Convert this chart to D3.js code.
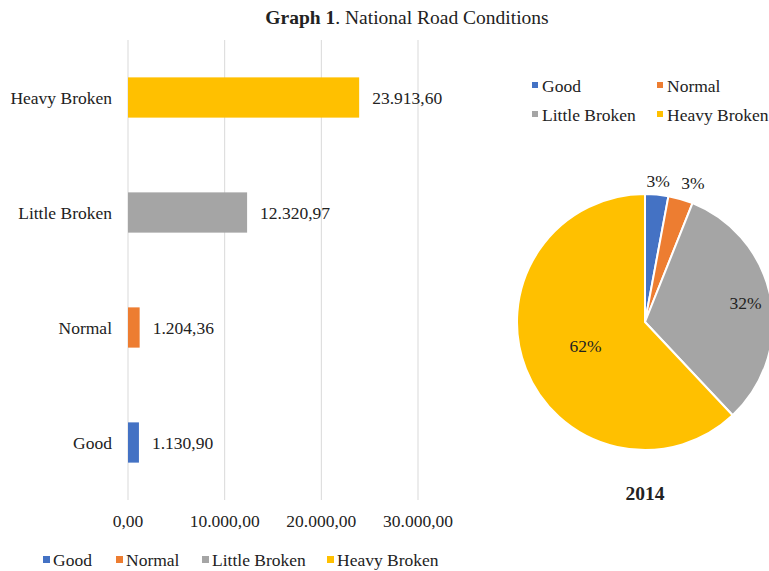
<!DOCTYPE html>
<html>
<head>
<meta charset="utf-8">
<script src="https://cdn.jsdelivr.net/npm/d3@7"></script>
<style>
  body { margin: 0; background: #fff; }
  text { font-family: 'Liberation Serif', 'Times New Roman', serif; fill: #222; }
</style>
</head>
<body>
<div id="chart"></div>
<script>
const categories = ['Good', 'Normal', 'Little Broken', 'Heavy Broken'];
const values = [1130.90, 1204.36, 12320.97, 23913.60];
const valueLabels = ['1.130,90', '1.204,36', '12.320,97', '23.913,60'];
const tickValues = [0, 10000, 20000, 30000];
const tickLabels = ['0,00', '10.000,00', '20.000,00', '30.000,00'];
const pieYear = '2014';
const colors = ['#4472C4', '#ED7D31', '#A5A5A5', '#FFC000'];

const width = 769;
const height = 571;
const fontSize = '17.5px';

const svg = d3.select('#chart').append('svg')
  .attr('width', width)
  .attr('height', height);

// title
const title = svg.append('text')
  .attr('x', 407)
  .attr('y', 24)
  .attr('text-anchor', 'middle')
  .style('font-size', '19.5px');
title.append('tspan').style('font-weight', 'bold').text('Graph 1');
title.append('tspan').text('. National Road Conditions');

//
// bar chart
//

const x = d3.scaleLinear()
  .domain([0, 30000])
  .range([128, 418]);

const y = d3.scaleBand()
  .domain(categories.slice().reverse())
  .range([40, 500])
  .paddingInner(0.65)
  .paddingOuter(0.325);

svg.append('g')
  .selectAll('line')
  .data(tickValues)
  .enter().append('line')
    .attr('x1', d => x(d))
    .attr('x2', d => x(d))
    .attr('y1', 40)
    .attr('y2', 500)
    .style('stroke', '#d9d9d9')
    .style('stroke-width', 1);

svg.append('g')
  .selectAll('text')
  .data(tickValues)
  .enter().append('text')
    .attr('x', d => x(d))
    .attr('y', 527)
    .attr('text-anchor', 'middle')
    .style('font-size', fontSize)
    .text((d, i) => tickLabels[i]);

svg.append('g')
  .selectAll('rect')
  .data(categories)
  .enter().append('rect')
    .attr('x', x(0))
    .attr('y', d => y(d))
    .attr('width', (d, i) => x(values[i]) - x(0))
    .attr('height', y.bandwidth())
    .style('fill', (d, i) => colors[i]);

svg.append('g')
  .selectAll('text')
  .data(categories)
  .enter().append('text')
    .attr('x', (d, i) => x(values[i]) + 13)
    .attr('y', d => y(d) + y.bandwidth() / 2)
    .attr('dy', '0.35em')
    .style('font-size', fontSize)
    .text((d, i) => valueLabels[i]);

svg.append('g')
  .selectAll('text')
  .data(categories)
  .enter().append('text')
    .attr('x', 112)
    .attr('y', d => y(d) + y.bandwidth() / 2)
    .attr('dy', '0.35em')
    .attr('text-anchor', 'end')
    .style('font-size', fontSize)
    .text(d => d);

// bottom legend
const bottomLegendX = [43, 116, 202, 327];
const bottomLegend = svg.append('g')
  .selectAll('g')
  .data(categories)
  .enter().append('g')
    .attr('transform', (d, i) => `translate(${bottomLegendX[i]},560)`);
bottomLegend.append('rect')
  .attr('x', 0).attr('y', -4)
  .attr('width', 7).attr('height', 7)
  .style('fill', (d, i) => colors[i]);
bottomLegend.append('text')
  .attr('x', 10)
  .attr('dy', '0.35em')
  .style('font-size', fontSize)
  .text(d => d);

//
// pie chart
//

const cx = 645;
const cy = 322;
const radius = 128;
const total = d3.sum(values);

const pie = d3.pie().sort(null)(values);
const arc = d3.arc().innerRadius(0).outerRadius(radius);

const pieG = svg.append('g').attr('transform', `translate(${cx},${cy})`);
pieG.selectAll('path')
  .data(pie)
  .enter().append('path')
    .attr('d', arc)
    .style('fill', (d, i) => colors[i])
    .style('stroke', '#fff')
    .style('stroke-width', 2);

// label distance from centre, relative to radius, and angle nudge (Excel "best fit")
const labelRadius = [1.11, 1.15, 0.8, 0.5];
const labelNudge = [0, 0.05, 0, 0];
const pct = v => `${Math.round(v / total * 100)}%`;
pieG.selectAll('text')
  .data(pie)
  .enter().append('text')
    .attr('transform', (d, i) => {
      const r = radius * labelRadius[i];
      const a = (d.startAngle + d.endAngle) / 2 + labelNudge[i];
      return `translate(${Math.sin(a) * r},${-Math.cos(a) * r})`;
    })
    .attr('text-anchor', 'middle')
    .attr('dy', '0.35em')
    .style('font-size', fontSize)
    .text(d => pct(d.value));

svg.append('text')
  .attr('x', cx)
  .attr('y', 500)
  .attr('text-anchor', 'middle')
  .style('font-size', '19.5px')
  .style('font-weight', 'bold')
  .text(pieYear);

// pie legend
const pieLegendPos = [[532, 86], [657, 86], [532, 115], [657, 115]];
const pieLegend = svg.append('g')
  .selectAll('g')
  .data(categories)
  .enter().append('g')
    .attr('transform', (d, i) => `translate(${pieLegendPos[i][0]},${pieLegendPos[i][1]})`);
pieLegend.append('rect')
  .attr('x', 0).attr('y', -4)
  .attr('width', 6).attr('height', 6)
  .style('fill', (d, i) => colors[i]);
pieLegend.append('text')
  .attr('x', 10)
  .attr('dy', '0.35em')
  .style('font-size', fontSize)
  .text(d => d);
</script>
</body>
</html>
